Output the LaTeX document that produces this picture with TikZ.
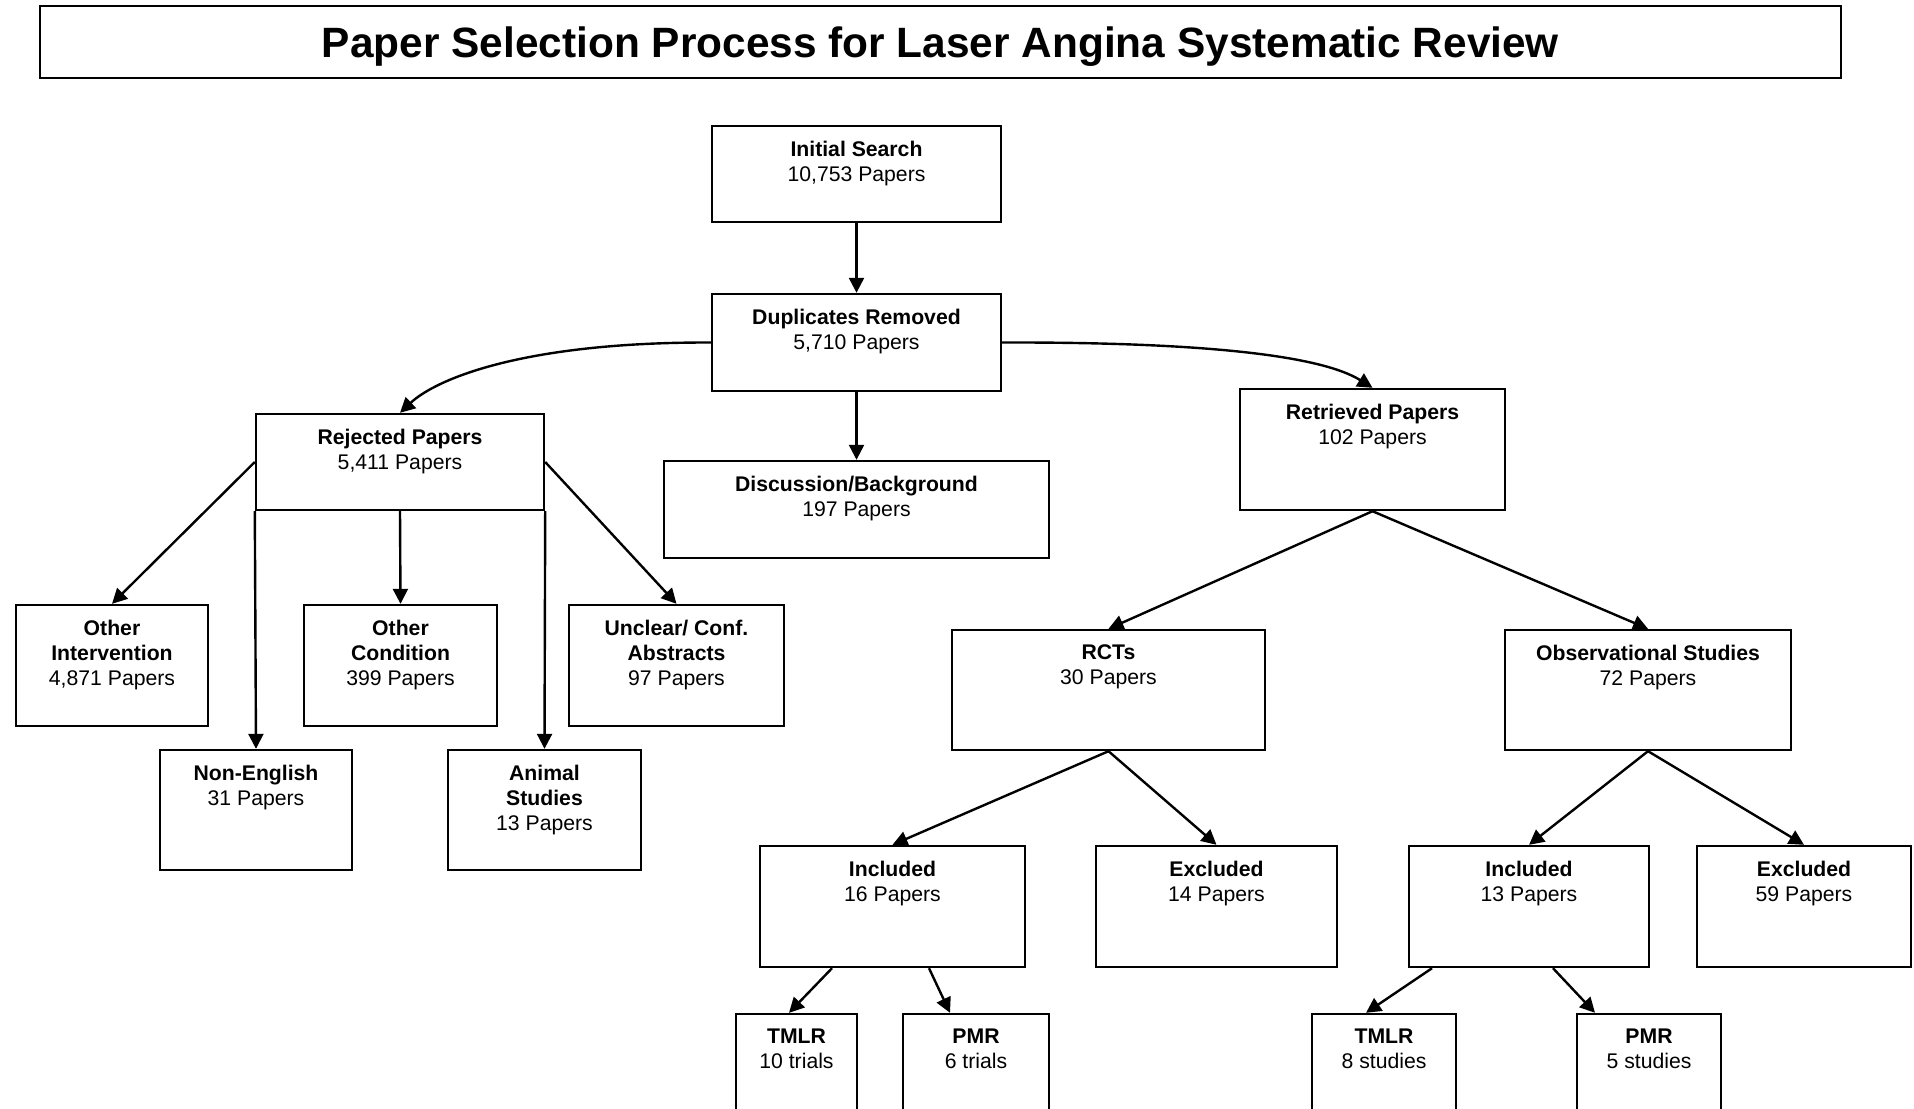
\documentclass[tikz,border=0pt]{standalone}
\usepackage{fontspec}
\setmainfont{Liberation Sans}
\usetikzlibrary{arrows.meta}

\begin{document}
\begin{tikzpicture}[x=0.5pt,y=-0.5pt,line width=1.2pt,
    box/.style={draw,rectangle,inner sep=0pt},
    txt/.style={anchor=north,align=center,inner sep=7.5pt,font=\fontsize{10.6}{12.5}\selectfont},
    arr/.style={-{Triangle[length=7.5pt,width=7.5pt]}}]
        \useasboundingbox (0,0) rectangle (1914,1108);
        \clip (0,0) rectangle (1914,1108);
        \fill[white] (0,0) rectangle (1914,1108);
        % title
        \draw (940.5,42) node[box,minimum width=900.5pt,minimum height=36pt,text depth=0pt,font=\bfseries\fontsize{21.2}{25}\selectfont](title){Paper Selection Process for Laser Angina Systematic Review};
        % search stages
        \draw (856.5,174) node[box,minimum width=144.5pt,minimum height=48pt,label={[txt]north:{\textbf{Initial Search}\\10,753 Papers}}](init){};
        \draw (856.5,342.5) node[box,minimum width=144.5pt,minimum height=48.5pt,label={[txt]north:{\textbf{Duplicates Removed}\\5,710 Papers}}](dup){};
        \draw (400,462) node[box,minimum width=144pt,minimum height=48pt,label={[txt]north:{\textbf{Rejected Papers}\\5,411 Papers}}](rej){};
        \draw (856.5,509.5) node[box,minimum width=192.5pt,minimum height=48.5pt,label={[txt]north:{\textbf{Discussion/Background}\\197 Papers}}](disc){};
        \draw (1372.5,449.5) node[box,minimum width=132.5pt,minimum height=60.5pt,label={[txt]north:{\textbf{Retrieved Papers}\\102 Papers}}](ret){};
        % rejected
        \draw (112,665.5) node[box,minimum width=96pt,minimum height=60.5pt,label={[txt]north:{\textbf{Other}\\\textbf{Intervention}\\4,871 Papers}}](oint){};
        \draw (400.5,665.5) node[box,minimum width=96.5pt,minimum height=60.5pt,label={[txt]north:{\textbf{Other}\\\textbf{Condition}\\399 Papers}}](ocond){};
        \draw (676.5,665.5) node[box,minimum width=107.5pt,minimum height=60.5pt,label={[txt]north:{\textbf{Unclear/ Conf.}\\\textbf{Abstracts}\\97 Papers}}](uncl){};
        \draw (256,810) node[box,minimum width=96pt,minimum height=60pt,label={[txt]north:{\textbf{Non-English}\\31 Papers}}](noneng){};
        \draw (544.5,810) node[box,minimum width=96.5pt,minimum height=60pt,label={[txt]north:{\textbf{Animal}\\\textbf{Studies}\\13 Papers}}](animal){};
        % retrieved
        \draw (1108.5,690) node[box,minimum width=156.5pt,minimum height=60pt,label={[txt]north:{\textbf{RCTs}\\30 Papers}}](rct){};
        \draw (1648,690) node[box,minimum width=143pt,minimum height=60pt,label={[txt]north:{\textbf{Observational Studies}\\72 Papers}}](obs){};
        \draw (892.5,906.5) node[box,minimum width=132.5pt,minimum height=60.5pt,label={[txt]north:{\textbf{Included}\\16 Papers}}](inca){};
        \draw (1216.5,906.5) node[box,minimum width=120.5pt,minimum height=60.5pt,label={[txt]north:{\textbf{Excluded}\\14 Papers}}](exca){};
        \draw (1529,906.5) node[box,minimum width=120pt,minimum height=60.5pt,label={[txt]north:{\textbf{Included}\\13 Papers}}](incb){};
        \draw (1804,906.5) node[box,minimum width=107pt,minimum height=60.5pt,label={[txt]north:{\textbf{Excluded}\\59 Papers}}](excb){};
        \draw (796.5,1074.5) node[box,minimum width=60.5pt,minimum height=60.5pt,label={[txt]north:{\textbf{TMLR}\\10 trials}}](tmlra){};
        \draw (976,1074.5) node[box,minimum width=73pt,minimum height=60.5pt,label={[txt]north:{\textbf{PMR}\\6 trials}}](pmra){};
        \draw (1384,1074.5) node[box,minimum width=72pt,minimum height=60.5pt,label={[txt]north:{\textbf{TMLR}\\8 studies}}](tmlrb){};
        \draw (1649,1074.5) node[box,minimum width=72pt,minimum height=60.5pt,label={[txt]north:{\textbf{PMR}\\5 studies}}](pmrb){};
        % arrows
        \draw[arr] (init) -- (dup);
        \draw[arr] (dup) -- (disc);
        \draw[arr] (dup.west) .. controls (520,342) and (435,380) .. (rej.north);
        \draw[arr] (dup.east) .. controls (1200,342) and (1320,355) .. (ret.north);
        \draw[arr] (rej.west) -- (oint.north);
        \draw[arr] (rej.south west) -- (noneng.north);
        \draw[arr] (rej.south) -- (ocond.north);
        \draw[arr] (rej.south east) -- (animal.north);
        \draw[arr] (rej.east) -- (uncl.north);
        \draw[arr] (ret.south) -- (rct.north);
        \draw[arr] (ret.south) -- (obs.north);
        \draw[arr] (rct.south) -- (inca.north);
        \draw[arr] (rct.south) -- (exca.north);
        \draw[arr] (obs.south) -- (incb.north);
        \draw[arr] (obs.south) -- (excb.north);
        \draw[arr] ([xshift=-30.25pt]inca.south) -- ([xshift=-3.75pt]tmlra.north);
        \draw[arr] ([xshift=18.25pt]inca.south) -- ([xshift=-13pt]pmra.north);
        \draw[arr] ([xshift=-48.5pt]incb.south) -- ([xshift=-9pt]tmlrb.north);
        \draw[arr] ([xshift=12pt]incb.south) -- ([xshift=-27pt]pmrb.north);
\end{tikzpicture}
\end{document}
